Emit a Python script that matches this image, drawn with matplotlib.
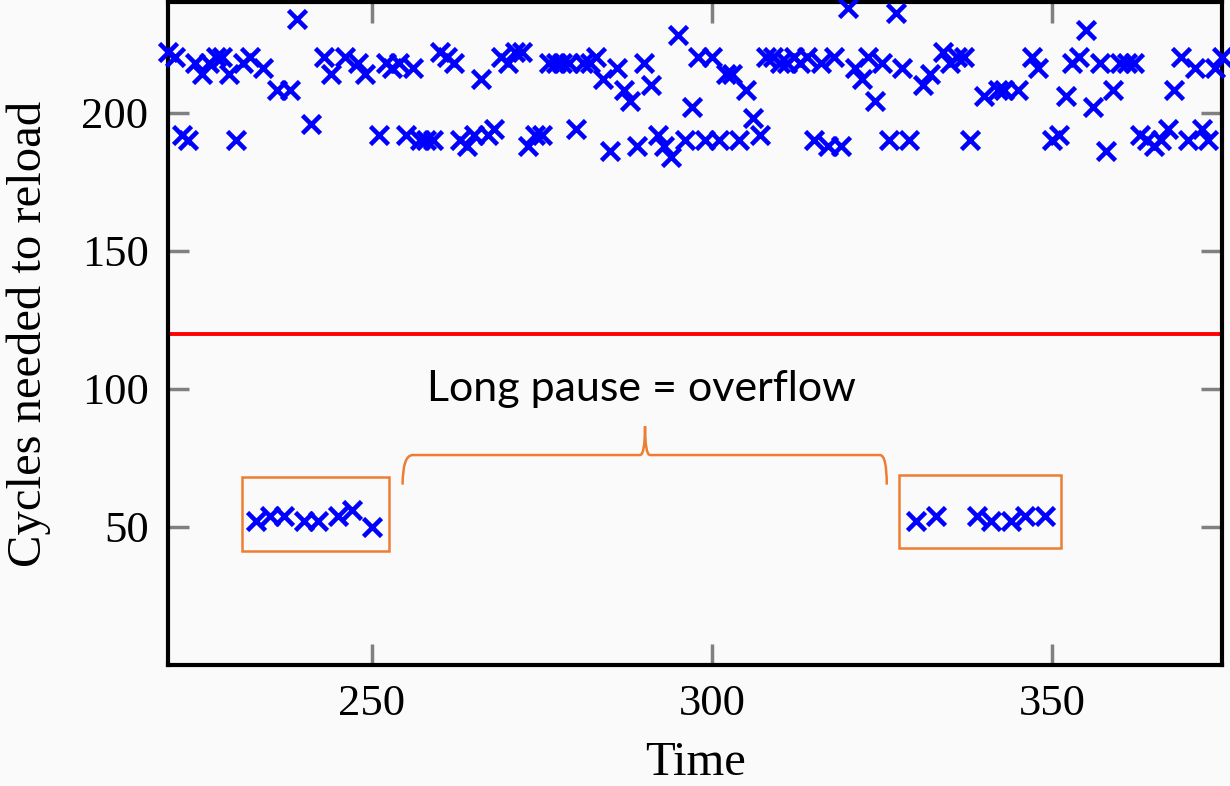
import matplotlib
matplotlib.use("Agg")
import matplotlib.pyplot as plt
from matplotlib.path import Path
from matplotlib.patches import PathPatch, Rectangle

# ---- data ----
time = list(range(220, 376))
cycles = [
    222, 220, 192, 190, 218, 214, 218, 220, 220, 214,  # 220-229
    190, 218, 220, 52, 216, 54, 208, 54, 208, 234,     # 230-239
    52, 196, 52, 220, 214, 54, 220, 56, 218, 214,      # 240-249
    50, 192, 218, 216, 218, 192, 216, 190, 190, 190,   # 250-259
    222, 220, 218, 190, 188, 192, 212, 192, 194, 220,  # 260-269
    218, 222, 222, 188, 192, 192, 218, 218, 218, 218,  # 270-279
    194, 218, 218, 220, 212, 186, 216, 208, 204, 188,  # 280-289
    218, 210, 192, 188, 184, 228, 190, 202, 220, 190,  # 290-299
    220, 190, 214, 214, 190, 208, 198, 192, 220, 220,  # 300-309
    218, 218, 220, 218, 220, 190, 218, 188, 220, 188,  # 310-319
    238, 216, 212, 220, 204, 218, 190, 236, 216, 190,  # 320-329
    52, 210, 214, 54, 222, 218, 220, 220, 190, 54,     # 330-339
    206, 52, 208, 208, 52, 208, 54, 220, 216, 54,      # 340-349
    190, 192, 206, 218, 220, 230, 202, 218, 186, 208,  # 350-359
    218, 218, 218, 192, 190, 188, 190, 194, 208, 220,  # 360-369
    190, 216, 194, 190, 216, 220,                      # 370-375
]
threshold = 120
x_ticks = [250, 300, 350]
y_ticks = [50, 100, 150, 200]
annotation_text = "Long pause = overflow"

BG = "#fafafa"
ORANGE = "#ed7d31"

fig = plt.figure(figsize=(12.3, 7.86), dpi=100, facecolor=BG)
ax = fig.add_axes([168 / 1230, 1 - 665 / 786, (1222 - 168) / 1230, (665 - 2) / 786])
ax.set_facecolor(BG)

ax.axhline(threshold, color="#ff0000", lw=2.8, zorder=2)
ax.plot(time, cycles, linestyle="none", marker="x", color="#0000ff",
        ms=12.5, mew=3.3, zorder=3, clip_on=False)

ax.set_xlim(220, 375)
ax.set_ylim(0, 240)
ax.set_xticks(x_ticks)
ax.set_yticks(y_ticks)

for s in ax.spines.values():
    s.set_linewidth(3)
    s.set_color("black")

ax.tick_params(direction="in", length=15, width=2.5, color="#808080",
               top=True, right=True, labelsize=32, pad=14)
for lab in ax.get_xticklabels() + ax.get_yticklabels():
    lab.set_family("Liberation Serif")

ax.set_xlabel("Time", family="Liberation Serif", fontsize=35, labelpad=12)
ax.set_ylabel("Cycles needed to reload", family="Liberation Serif", fontsize=35, labelpad=22)

# orange boxes around low groups
ax.add_patch(Rectangle((230.9, 41.4), 21.6, 26.6, fill=False, ec=ORANGE, lw=1.8, zorder=4))
ax.add_patch(Rectangle((327.5, 42.5), 23.8, 26.3, fill=False, ec=ORANGE, lw=1.8, zorder=4))

# curly brace
xl, xl2, xm_l, xm, xm_r, xr2, xr = 254.5, 256.0, 289.4, 290.15, 290.9, 324.7, 325.7
yb, yt, ytip = 65.3, 76.0, 86.4
verts = [(xl, yb), (xl, yt), (xl2, yt), (xm_l, yt), (xm, yt), (xm, ytip),
         (xm, yt), (xm_r, yt), (xr2, yt), (xr, yt), (xr, yb)]
codes = [Path.MOVETO, Path.CURVE3, Path.CURVE3, Path.LINETO, Path.CURVE3, Path.CURVE3,
         Path.CURVE3, Path.CURVE3, Path.LINETO, Path.CURVE3, Path.CURVE3]
ax.add_patch(PathPatch(Path(verts, codes), fill=False, ec=ORANGE, lw=1.8, zorder=4))

ax.text(289.6, 100.0, annotation_text, family="Lato", fontsize=31,
        ha="center", va="center", color="black")

fig.savefig("out.png", dpi=100, facecolor=BG)
